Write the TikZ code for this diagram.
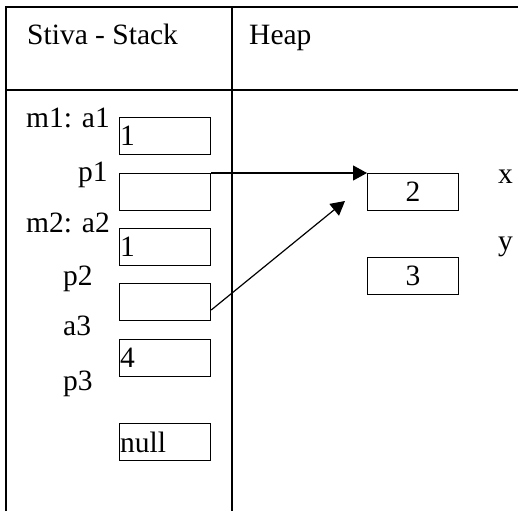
\documentclass[tikz,border=0pt]{standalone}
\usepackage{fontspec}
\setmainfont{Liberation Serif}
\usetikzlibrary{arrows.meta}
\begin{document}
\begin{tikzpicture}[x=1pt,y=-1pt,
  cell/.style={draw,line width=1.2pt,minimum width=91pt,minimum height=37pt,inner sep=0.5pt,anchor=north west,font=\fontsize{29.5}{31}\selectfont},
  lbox/.style={cell,text width=90pt,align=left},
  cbox/.style={cell,align=center},
  lab/.style={anchor=base west,inner sep=0pt,font=\fontsize{29.5}{31}\selectfont},
  grid/.style={line width=1.2pt},
  ptr/.style={line width=1.2pt,-{Triangle[length=14pt,width=15pt]}}]
\useasboundingbox (0,0) rectangle (518,511);
% table
\draw[grid] (6,511) -- (6,7) -- (518,7);
\draw[grid] (6,90) -- (518,90);
\draw[grid] (232,7) -- (232,511);
\node[lab] (hs) at (27,45) {Stiva - Stack};
\node[lab] (hh) at (249,45) {Heap};
% stack labels
\node[lab] (l1) at (26,127) {m1: a1};
\node[lab] (l2) at (78,181) {p1};
\node[lab] (l3) at (26,232) {m2: a2};
\node[lab] (l4) at (63,285) {p2};
\node[lab] (l5) at (63,335) {a3};
\node[lab] (l6) at (63,390) {p3};
% stack boxes
\node[lbox] (s1) at (119,117) {1};
\node[lbox] (s2) at (119,173) {};
\node[lbox] (s3) at (119,228) {1};
\node[lbox] (s4) at (119,283) {};
\node[lbox] (s5) at (119,339) {4};
\node[lbox] (s6) at (119,423) {null};
% heap boxes
\node[cbox] (h1) at (367,173) {2};
\node[cbox] (h2) at (367,257) {3};
\node[lab] (vx) at (498,183) {x};
\node[lab] (vy) at (498,250) {y};
% pointers
\coordinate (t2) at (345,201);
\draw[ptr] (s2.north east) -- (h1.north west);
\draw[ptr] ([yshift=-27pt]s4.north east) -- (t2);
\end{tikzpicture}
\end{document}
